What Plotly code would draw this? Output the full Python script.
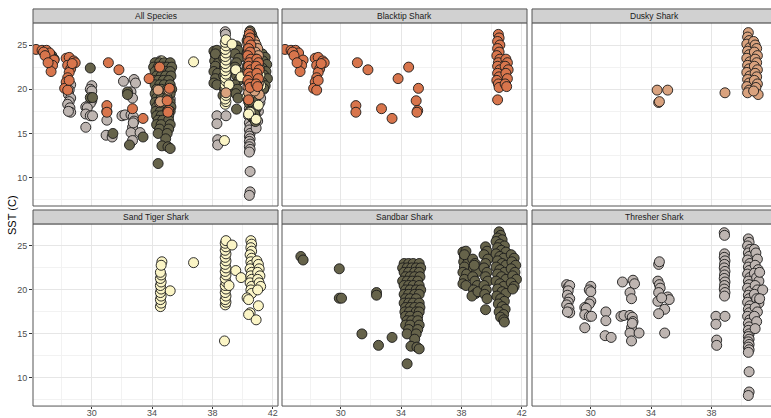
import plotly.graph_objects as go

# ---------------- data (longitude, SST) ----------------
species = ["Blacktip Shark", "Dusky Shark", "Sand Tiger Shark", "Sandbar Shark", "Thresher Shark"]
panel_titles = ["All Species", "Blacktip Shark", "Dusky Shark",
                "Sand Tiger Shark", "Sandbar Shark", "Thresher Shark"]
x_ticks = [30, 34, 38, 42]
y_ticks = [10, 15, 20, 25]

blacktip_x = [26.3, 26.7, 27.0, 27.2, 27.5, 27.4, 27.3, 26.8, 26.9, 27.1,
              28.3, 28.5, 28.8, 28.4, 28.6, 28.5, 28.4, 28.3, 28.2, 28.4, 28.9, 28.7, 28.5,
              31.1, 31.8, 34.5, 33.8, 35.15, 35.0, 35.1, 35.05, 31.0, 31.0, 32.7, 33.4,
              40.45, 40.5, 40.4, 40.55, 40.4, 40.5, 40.35, 40.55, 40.45, 40.4, 40.55, 40.4,
              40.5, 40.35, 40.45, 40.5,
              40.95, 41.05, 40.9, 41.1, 40.95, 41.05, 40.9, 41.0, 40.4]
blacktip_y = [24.5, 24.4, 24.4, 24.1, 23.3, 22.7, 22.0, 24.2, 23.8, 23.0,
              23.5, 23.6, 23.2, 22.7, 22.3, 21.9, 21.3, 20.8, 20.1, 19.9, 23.0, 22.9, 21.0,
              23.0, 22.2, 22.5, 21.2, 20.1, 18.7, 17.6, 17.4, 18.15, 17.4, 17.8, 16.7,
              26.2, 25.8, 25.4, 25.0, 24.6, 24.2, 23.8, 23.4, 23.0, 22.6, 22.2, 21.8,
              21.4, 21.0, 20.6, 20.2,
              23.4, 23.0, 22.6, 22.2, 21.8, 21.2, 20.6, 20.3, 18.8]

dusky_x = [34.4, 35.1, 34.5, 34.55, 38.9,
           40.45, 40.4, 40.5, 40.35, 40.55, 40.4, 40.5, 40.35, 40.55, 40.4, 40.5, 40.35,
           40.55, 40.4, 40.5, 40.35, 40.5, 40.4,
           40.8, 40.9, 41.0, 40.85, 41.05, 40.9, 41.0, 40.85, 41.05, 40.9, 41.0, 40.85,
           41.05, 40.95, 41.1, 40.8]
dusky_y = [19.9, 19.9, 18.5, 18.6, 19.6,
           26.4, 25.9, 25.5, 25.1, 24.7, 24.3, 23.9, 23.5, 23.1, 22.7, 22.3, 21.9,
           21.5, 21.1, 20.7, 20.3, 19.9, 19.6,
           25.4, 25.0, 24.6, 24.2, 23.8, 23.4, 23.0, 22.6, 22.2, 21.8, 21.4, 21.0,
           20.6, 20.2, 19.4, 19.8]

sandtiger_x = [34.55, 34.6, 34.55, 34.6, 34.55, 34.6, 34.55, 34.6, 34.55, 34.6, 34.55,
               34.65, 34.6, 35.2, 36.75,
               38.85, 38.9, 38.85, 38.9, 38.85, 38.9, 38.85, 38.9, 38.85, 38.9, 38.85,
               38.9, 38.85, 38.9, 38.85, 38.9, 38.85, 38.9, 38.85, 38.9,
               38.8, 39.3, 39.55, 39.9, 39.1,
               40.55, 40.6, 40.55, 40.6, 40.5, 40.6, 40.55, 40.6, 40.5, 40.6, 40.55,
               40.6, 40.5, 40.6, 40.55, 40.6, 40.3, 40.4, 40.5, 40.4,
               40.95, 41.05, 41.1, 41.0, 41.15, 41.0, 41.1, 41.2, 41.0, 41.05, 40.9]
sandtiger_y = [18.1, 18.5, 18.9, 19.3, 19.7, 20.1, 20.5, 20.9, 21.3, 21.7, 22.0,
               23.2, 22.8, 19.9, 23.1,
               18.3, 18.6, 18.9, 19.3, 19.7, 20.1, 20.5, 20.9, 21.3, 21.7, 22.1,
               22.5, 22.9, 23.3, 23.7, 24.1, 24.5, 24.9, 25.3, 25.6,
               14.2, 25.1, 22.2, 21.4, 20.5,
               25.6, 25.2, 24.8, 24.4, 24.0, 23.6, 23.2, 22.8, 22.4, 22.0, 21.6,
               21.2, 20.8, 20.4, 20.0, 19.6, 19.1, 18.9, 17.4, 17.2,
               23.3, 22.9, 22.4, 22.0, 21.6, 21.2, 20.8, 20.4, 20.0, 18.2, 16.6]

sandbar_x = [27.35, 27.5, 29.9, 29.9, 30.05, 32.37, 32.37, 31.4, 32.5, 33.4, 34.4,
             34.2, 34.5, 34.8, 35.2,
             34.1, 34.4, 34.7, 35.0, 35.3,
             34.2, 34.5, 34.9, 35.2,
             34.3, 34.6, 34.9, 35.25,
             34.1, 34.4, 34.75, 35.1,
             34.2, 34.5, 34.8, 35.2,
             34.3, 34.6, 35.0, 35.3,
             34.2, 34.5, 34.9, 35.2,
             34.3, 34.6, 35.0,
             34.2, 34.5, 34.8, 35.2,
             34.3, 34.6, 34.9, 35.25,
             34.25, 34.55, 35.0, 35.2,
             34.3, 34.6, 35.1,
             34.4, 34.7, 35.1,
             34.3, 34.6, 35.2,
             34.5, 35.1,
             34.4, 35.0,
             34.9, 34.65, 35.05, 35.2,
             38.1, 38.3, 38.2, 38.15, 38.4, 38.2, 38.1, 38.35, 38.2, 38.1, 38.3, 38.2,
             38.75, 38.9, 38.8, 39.0, 38.75, 38.9, 39.05, 38.8, 38.95, 38.7, 39.1, 38.85,
             39.6, 39.7, 39.5, 39.75, 39.6, 39.5, 39.7, 39.6, 39.75, 39.5, 39.65, 39.55,
             39.7, 39.6,
             40.5, 40.6, 40.4, 40.7, 40.3, 40.55, 40.85, 40.4, 40.65, 40.95, 40.3, 40.55,
             40.8, 40.4, 40.7, 40.95, 40.3, 40.55, 40.85, 40.4, 40.65, 40.95, 40.3, 40.55,
             40.8, 40.4, 40.7, 40.95, 40.35, 40.6, 40.85, 40.45, 40.7, 40.9, 40.5, 40.8,
             40.6, 40.8, 40.85,
             41.3, 41.5, 41.35, 41.6, 41.3, 41.55, 41.4, 41.65, 41.3, 41.5, 41.4]
sandbar_y = [23.8, 23.4, 22.4, 19.06, 19.06, 19.7, 19.4, 15.0, 13.7, 14.6, 11.6,
             23.0, 23.0, 23.0, 23.0,
             22.5, 22.5, 22.5, 22.5, 22.5,
             22.0, 22.0, 22.0, 22.0,
             21.5, 21.5, 21.5, 21.5,
             21.0, 21.0, 21.0, 21.0,
             20.5, 20.5, 20.5, 20.5,
             20.0, 20.0, 20.0, 20.0,
             19.5, 19.5, 19.5, 19.5,
             19.0, 19.0, 19.0,
             18.5, 18.5, 18.5, 18.5,
             18.0, 18.0, 18.0, 18.0,
             17.5, 17.5, 17.5, 17.5,
             17.0, 17.0, 17.0,
             16.5, 16.5, 16.5,
             16.0, 16.0, 16.0,
             15.5, 15.5,
             15.0, 15.0,
             14.4, 13.6, 13.5, 13.3,
             24.3, 24.4, 23.8, 23.2, 23.0, 22.6, 22.0, 21.8, 21.2, 20.7, 20.5, 24.0,
             23.5, 23.0, 22.5, 22.0, 21.5, 21.0, 20.5, 20.0, 19.6, 19.3, 19.8, 22.8,
             24.9, 24.4, 24.0, 23.5, 23.0, 22.5, 22.0, 21.5, 21.0, 20.5, 20.0, 19.5,
             19.0, 17.75,
             26.6, 26.2, 25.9, 25.7, 25.5, 25.2, 25.0, 24.8, 24.5, 24.3, 24.1, 23.8,
             23.6, 23.3, 23.0, 22.8, 22.6, 22.3, 22.0, 21.8, 21.5, 21.2, 21.0, 20.7,
             20.4, 20.1, 19.8, 19.6, 19.3, 19.0, 18.7, 18.4, 18.1, 17.8, 17.5, 17.2,
             16.9, 16.6, 16.35,
             24.0, 23.6, 23.2, 22.8, 22.4, 22.0, 21.6, 21.2, 20.8, 20.4, 20.1]

thresher_x = [28.4, 28.5, 28.6, 28.5, 28.45, 28.6, 28.5, 28.4, 28.55, 28.6, 28.45,
              30.0, 29.9, 30.0, 30.0, 29.9, 29.6, 29.7, 29.6, 29.9, 30.05, 29.6,
              31.0, 31.0, 30.95, 31.35,
              32.1, 32.8, 32.9, 32.6, 32.7, 32.0, 32.2, 32.6, 32.75, 32.8, 32.7, 32.6,
              32.7, 33.2, 32.75,
              34.5, 34.55, 34.45, 34.55, 34.6, 34.5, 34.45, 35.1, 35.2, 34.9, 34.5,
              34.9, 34.7,
              38.3, 38.3, 38.35, 38.35, 38.9, 38.85, 38.87,
              38.87, 38.85, 38.9, 38.87, 38.85, 38.9, 38.87, 38.85, 38.9, 38.87, 38.85,
              38.9, 38.87,
              40.45, 40.5, 40.4, 40.55, 40.45, 40.5, 40.4, 40.55, 40.45, 40.5, 40.4,
              40.55, 40.45, 40.5, 40.4, 40.55, 40.45, 40.5, 40.4, 40.55, 40.45, 40.5,
              40.4, 40.55, 40.45, 40.5, 40.45, 40.5, 40.45, 40.5, 40.45, 40.5, 40.45,
              40.5, 40.45, 40.5, 40.5, 40.45,
              40.85, 40.95, 41.05, 40.9, 41.1, 40.85, 41.0, 41.15, 40.9, 41.05, 40.85,
              41.0, 41.15, 40.9, 41.05, 40.85, 41.0, 40.9, 41.4, 41.2, 41.2]
thresher_y = [20.6, 20.3, 20.5, 19.9, 19.4, 19.0, 18.6, 18.3, 17.9, 17.4, 17.5,
              20.4, 20.0, 19.8, 18.7, 18.4, 18.0, 17.9, 17.2, 17.0, 17.0, 15.7,
              17.5, 16.5, 14.8, 14.6,
              20.9, 21.1, 20.7, 19.7, 19.0, 17.0, 17.1, 17.1, 16.9, 16.4, 15.7, 15.1,
              14.2, 15.1, 16.2,
              22.9, 23.2, 21.0, 20.6, 20.2, 19.7, 18.7, 19.2, 18.9, 17.8, 17.3,
              15.1, 19.1,
              17.0, 16.1, 14.3, 13.7, 17.0, 26.5, 26.2,
              24.1, 23.7, 23.3, 22.9, 22.5, 22.1, 21.7, 21.3, 20.9, 20.5, 20.1,
              19.7, 19.3,
              25.8, 25.4, 25.0, 24.6, 24.2, 23.8, 23.4, 23.0, 22.6, 22.2, 21.8,
              21.4, 21.0, 20.6, 20.2, 19.8, 19.4, 19.0, 18.6, 18.2, 17.8, 17.4,
              17.0, 16.6, 16.2, 15.8, 15.4, 15.0, 14.7, 14.4, 14.1, 13.8, 13.5,
              13.2, 12.9, 10.7, 8.4, 8.0,
              24.6, 24.2, 23.5, 22.8, 22.3, 21.9, 21.4, 21.0, 20.5, 20.0, 19.5,
              19.0, 18.5, 18.0, 17.5, 17.0, 16.4, 15.6, 20.0, 22.0, 19.0]

colors = {
    "Blacktip Shark": "#D8754C",
    "Dusky Shark": "#D9A27E",
    "Sand Tiger Shark": "#FBF5C6",
    "Sandbar Shark": "#66634A",
    "Thresher Shark": "#BEB5B1",
}
data = {
    "Blacktip Shark": (blacktip_x, blacktip_y),
    "Dusky Shark": (dusky_x, dusky_y),
    "Sand Tiger Shark": (sandtiger_x, sandtiger_y),
    "Sandbar Shark": (sandbar_x, sandbar_y),
    "Thresher Shark": (thresher_x, thresher_y),
}

# ---------------- layout geometry (pixels) ----------------
W, H = 771, 418
col_left = [33, 282, 532]
panel_w = 245
row_top = [23, 225]
row_bot = [207, 408]
strip_h = 14
x_range = [26.1, 42.35]
y_range = [6.8, 27.5]
px_per_x = panel_w / (x_range[1] - x_range[0])

fig = go.Figure()


def add_points(panel, name, xs, ys):
    axn = "" if panel == 0 else str(panel + 1)
    fig.add_trace(go.Scatter(
        x=xs, y=ys, mode="markers", name=name, showlegend=False,
        xaxis="x" + axn, yaxis="y" + axn, cliponaxis=True,
        marker=dict(size=10, color=colors[name],
                    line=dict(color="#1a1a1a", width=0.9)),
        hoverinfo="x+y+name"))


# All Species panel (drawing order chosen to mimic overlap)
st_x, st_y = data["Sand Tiger Shark"]
add_points(0, "Thresher Shark", *data["Thresher Shark"])
add_points(0, "Sand Tiger Shark", [a for a in st_x if a < 37],
           [b for a, b in zip(st_x, st_y) if a < 37])
add_points(0, "Sandbar Shark", *data["Sandbar Shark"])
add_points(0, "Sand Tiger Shark", [a for a in st_x if a >= 37],
           [b for a, b in zip(st_x, st_y) if a >= 37])
add_points(0, "Dusky Shark", *data["Dusky Shark"])
add_points(0, "Blacktip Shark", *data["Blacktip Shark"])
for i, sp in enumerate(["Blacktip Shark", "Dusky Shark", "Sand Tiger Shark",
                        "Sandbar Shark", "Thresher Shark"]):
    add_points(i + 1, sp, *data[sp])

shapes = []
annotations = []
layout_axes = {}
for p in range(6):
    r, c = divmod(p, 3)
    left = col_left[c]
    right = left + panel_w
    right_clip = min(right, W)
    xr = [x_range[0], x_range[0] + (right_clip - left) / px_per_x]
    xd = [left / W, right_clip / W]
    yd = [(H - row_bot[r]) / H, (H - row_top[r]) / H]
    axn = "" if p == 0 else str(p + 1)
    layout_axes["xaxis" + axn] = dict(
        domain=xd, range=xr, anchor="y" + axn,
        tickmode="array", tickvals=x_ticks, ticktext=[str(v) for v in x_ticks],
        showticklabels=(r == 1), ticks="outside" if r == 1 else "",
        ticklen=2, tickcolor="#333333", tickwidth=1, ticklabelstandoff=-4,
        tickfont=dict(size=9, color="#4d4d4d", family="Liberation Sans, Arial"),
        showgrid=True, gridcolor="#E6E6E6", gridwidth=1,
        minor=dict(tickmode="array", tickvals=[28, 32, 36, 40],
                   showgrid=True, gridcolor="#F2F2F2", gridwidth=0.6),
        zeroline=False, showline=False, fixedrange=True)
    layout_axes["yaxis" + axn] = dict(
        domain=yd, range=y_range, anchor="x" + axn,
        tickmode="array", tickvals=y_ticks, ticktext=[str(v) for v in y_ticks],
        showticklabels=(c == 0), ticks="outside" if c == 0 else "",
        ticklen=3, tickcolor="#333333", tickwidth=1,
        tickfont=dict(size=9, color="#4d4d4d", family="Liberation Sans, Arial"),
        showgrid=True, gridcolor="#E6E6E6", gridwidth=1,
        minor=dict(tickmode="array", tickvals=[7.5, 12.5, 17.5, 22.5],
                   showgrid=True, gridcolor="#F2F2F2", gridwidth=0.6),
        zeroline=False, showline=False, fixedrange=True)
    # panel border
    shapes.append(dict(type="rect", xref="paper", yref="paper",
                       x0=left / W, x1=right / W,
                       y0=(H - row_bot[r]) / H, y1=(H - row_top[r]) / H,
                       line=dict(color="#555555", width=1), layer="above"))
    # strip
    shapes.append(dict(type="rect", xref="paper", yref="paper",
                       x0=left / W, x1=right / W,
                       y0=(H - row_top[r]) / H, y1=(H - row_top[r] + strip_h) / H,
                       fillcolor="#D1D1D1", line=dict(color="#555555", width=1),
                       layer="above"))
    annotations.append(dict(text=panel_titles[p], xref="paper", yref="paper",
                            x=(left + right) / 2 / W,
                            y=(H - row_top[r] + strip_h / 2) / H,
                            showarrow=False, xanchor="center", yanchor="middle",
                            font=dict(size=8.5, color="#1a1a1a",
                                      family="Liberation Sans, Arial")))

annotations.append(dict(text="SST (C)", xref="paper", yref="paper",
                        x=12 / W, y=(H - 216) / H, textangle=-90,
                        showarrow=False, xanchor="center", yanchor="middle",
                        font=dict(size=11, color="#000000",
                                  family="Liberation Sans, Arial")))

fig.update_layout(
    width=W, height=H, margin=dict(l=0, r=0, t=0, b=0),
    paper_bgcolor="white", plot_bgcolor="white",
    shapes=shapes, annotations=annotations, showlegend=False,
    **layout_axes)

fig.write_html(
    "out.html",
    config={"displayModeBar": False},
    post_script="document.body.style.margin='0';document.body.style.overflow='hidden';")
